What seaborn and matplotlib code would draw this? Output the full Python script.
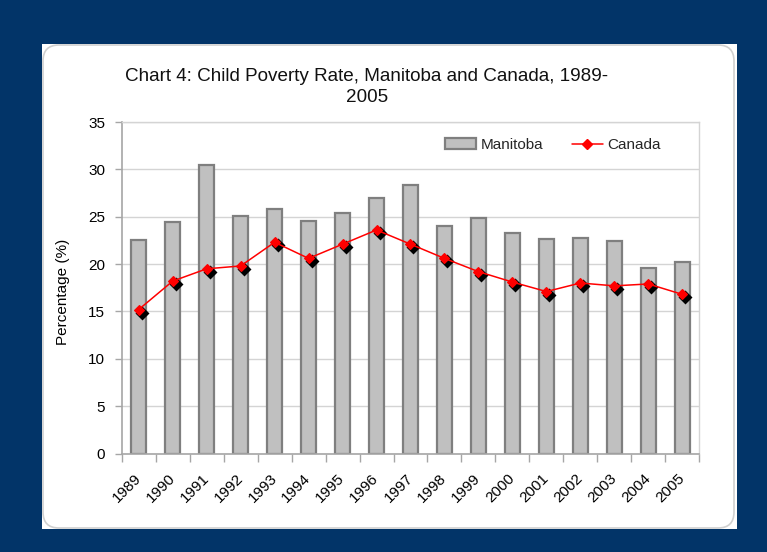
import matplotlib
matplotlib.use('Agg')
import matplotlib.pyplot as plt
import seaborn as sns
import pandas as pd
import numpy as np
from matplotlib.patches import FancyBboxPatch, Rectangle, Patch
from matplotlib.lines import Line2D
from matplotlib.transforms import IdentityTransform, ScaledTranslation

# ---- data ----
years = ["1989", "1990", "1991", "1992", "1993", "1994", "1995", "1996", "1997",
         "1998", "1999", "2000", "2001", "2002", "2003", "2004", "2005"]
manitoba = [22.5, 24.4, 30.5, 25.1, 25.8, 24.6, 25.4, 27.0, 28.4,
            24.0, 24.9, 23.3, 22.6, 22.8, 22.4, 19.6, 20.2]
canada = [15.2, 18.2, 19.5, 19.8, 22.3, 20.6, 22.1, 23.6, 22.1,
          20.6, 19.2, 18.1, 17.1, 18.0, 17.7, 17.9, 16.8]
y_ticks = [0, 5, 10, 15, 20, 25, 30, 35]
title = "Chart 4: Child Poverty Rate, Manitoba and Canada, 1989-\n2005"

sns.set_theme(style='white')
plt.rcParams['font.family'] = ['Liberation Sans', 'DejaVu Sans']

W, H = 767, 552
fig = plt.figure(figsize=(W / 100, H / 100), dpi=100, facecolor='#023468')

# white panel + rounded border
fig.add_artist(Rectangle((42, H - 529), 695, 485, transform=IdentityTransform(),
                         facecolor='white', edgecolor='none', zorder=-3))
fig.add_artist(FancyBboxPatch((43, H - 528), 691, 483,
                              boxstyle='round,pad=0,rounding_size=16',
                              transform=IdentityTransform(),
                              facecolor='white', edgecolor='#d0d0d0', lw=1.2, zorder=-2))

ax = fig.add_axes([121.7 / W, (H - 453.5) / H, (699.3 - 121.7) / W, (453.5 - 122) / H])
ax.set_facecolor('white')

df = pd.DataFrame({'Year': years, 'Manitoba': manitoba, 'Canada': canada})

sns.barplot(data=df, x='Year', y='Manitoba', ax=ax, color='#c0c0c0',
            edgecolor='#7f7f7f', linewidth=1.6, width=0.44, saturation=1, zorder=2)

# shadow diamonds (black, offset down-right)
n_before = len(ax.lines)
sns.pointplot(data=df, x='Year', y='Canada', ax=ax, color='black',
              markers='D', markersize=4.8, linestyles='none')
offset = ScaledTranslation(3 / 100, -3 / 100, fig.dpi_scale_trans)
for ln in ax.lines[n_before:]:
    ln.set_transform(ax.transData + offset)
    ln.set_zorder(3)

n_before = len(ax.lines)
sns.pointplot(data=df, x='Year', y='Canada', ax=ax, color='#ff0000',
              markers='D', markersize=4.8, linewidth=1.1)
for ln in ax.lines[n_before:]:
    ln.set_zorder(4)
    ln.set_markeredgecolor('#ff0000')

ax.set_xlim(-0.5, len(years) - 0.5)
ax.set_ylim(0, 35)
ax.set_yticks(y_ticks)
ax.set_xlabel('')
ax.set_ylabel('')

ax.yaxis.grid(True, color='#d4d4d4', lw=1)
ax.xaxis.grid(False)
ax.set_axisbelow(True)

for side in ['top', 'right']:
    ax.spines[side].set_color('#d4d4d4')
    ax.spines[side].set_linewidth(1)
for side in ['left', 'bottom']:
    ax.spines[side].set_color('#a6a6a6')
    ax.spines[side].set_linewidth(1.2)

ax.set_xticks(np.arange(-0.5, len(years), 1), minor=True)
ax.tick_params(axis='x', which='major', length=0, pad=16, labelsize=11, labelcolor='black')
ax.tick_params(axis='x', which='minor', length=6, color='#a6a6a6', width=1, bottom=True)
ax.tick_params(axis='y', which='major', length=5, color='#a6a6a6', width=1, left=True,
               labelsize=11, labelcolor='black', pad=7)
for lab in ax.get_xticklabels():
    lab.set_rotation(45)
    lab.set_ha('right')
    lab.set_va('center')
    lab.set_rotation_mode('anchor')

fig.text(63.5 / W, 1 - 292 / H, 'Percentage (%)', rotation=90, ha='center', va='center',
         fontsize=11, color='black')
fig.text(367 / W, 1 - 87 / H, title, ha='center', va='center', fontsize=13.6,
         color='#111111', linespacing=1.3)

handles = [Patch(facecolor='#c0c0c0', edgecolor='#7f7f7f', lw=1.6),
           Line2D([], [], color='#ff0000', marker='D', ms=4.8, lw=1.1)]
ax.legend(handles, ['Manitoba', 'Canada'], loc='center',
          bbox_to_anchor=(553 / W, 1 - 145 / H), bbox_transform=fig.transFigure,
          ncol=2, frameon=False, fontsize=11, handlelength=2.0, handletextpad=0.3,
          columnspacing=1.9)

fig.savefig('out.png', dpi=100, facecolor=fig.get_facecolor())
